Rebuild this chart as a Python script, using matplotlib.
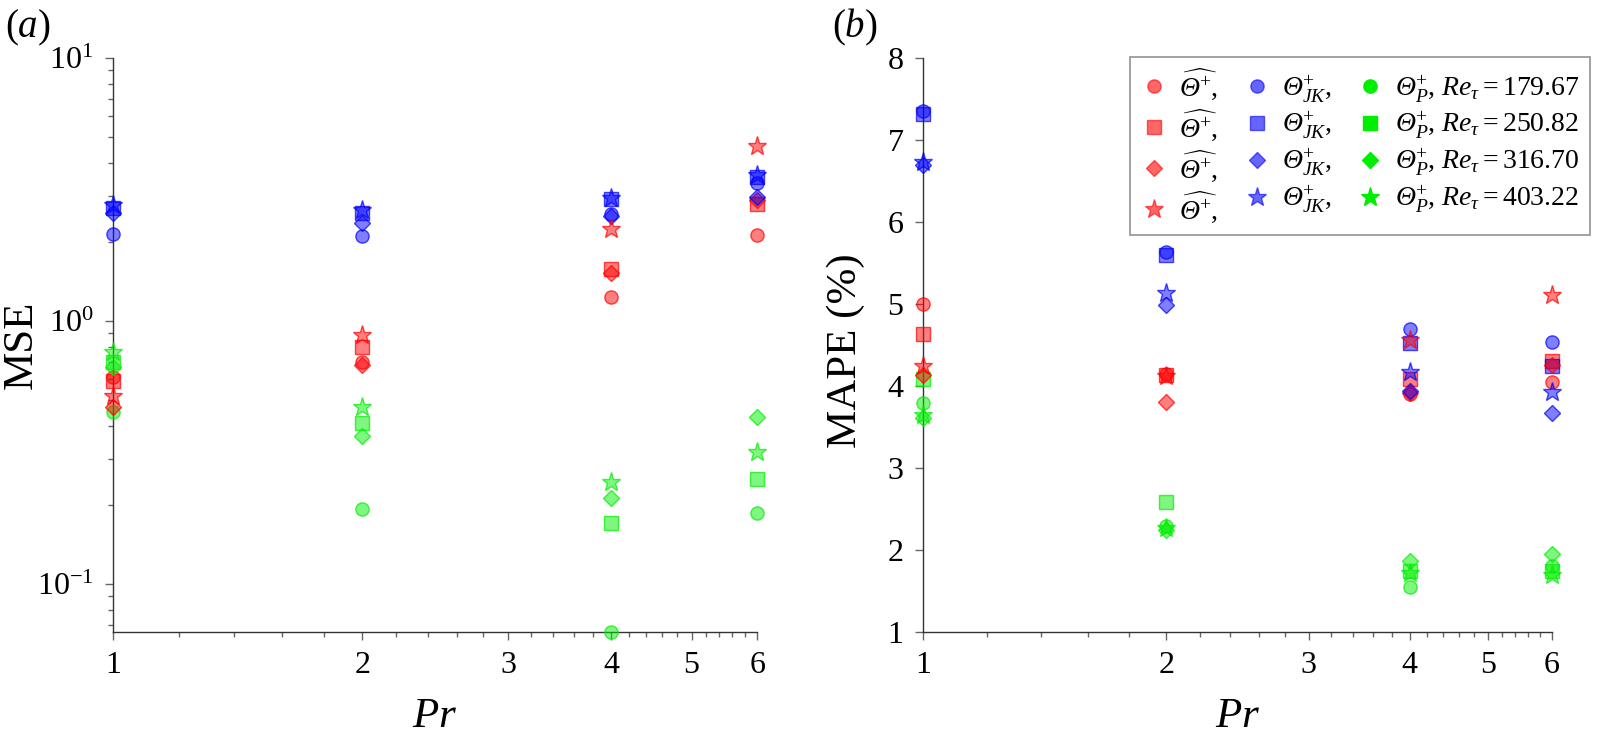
import numpy as np
import matplotlib
matplotlib.use("Agg")
import matplotlib.pyplot as plt
from matplotlib.lines import Line2D
from matplotlib.ticker import FixedLocator, NullFormatter, NullLocator, LogLocator

plt.rcParams['font.family'] = ['Liberation Serif', 'DejaVu Serif']
plt.rcParams['mathtext.fontset'] = 'custom'
plt.rcParams['mathtext.rm'] = 'Liberation Serif'
plt.rcParams['mathtext.it'] = 'Liberation Serif:italic'
plt.rcParams['mathtext.bf'] = 'Liberation Serif:bold'
# sf slot used for the italic capital Theta
plt.rcParams['mathtext.sf'] = 'Liberation Serif:italic'

# Prandtl numbers and friction Reynolds numbers
pr = [1, 2, 4, 6]
re_tau = ["179.67", "250.82", "316.70", "403.22"]
markers = ["o", "s", "D", "*"]

# MSE, rows follow re_tau
mse_hat = [[0.61, 0.70, 1.23, 2.12],
           [0.59, 0.80, 1.58, 2.79],
           [0.47, 0.68, 1.52, 2.88],
           [0.52, 0.885, 2.24, 4.62]]
mse_jk = [[2.14, 2.10, 2.55, 3.35],
          [2.69, 2.58, 2.90, 3.53],
          [2.58, 2.36, 2.50, 2.96],
          [2.76, 2.64, 2.94, 3.59]]
mse_p = [[0.45, 0.193, 0.0657, 0.186],
         [0.70, 0.41, 0.171, 0.25],
         [0.67, 0.365, 0.212, 0.431],
         [0.76, 0.47, 0.244, 0.318]]

# MAPE (%), rows follow re_tau
mape_hat = [[5.00, 4.15, 3.90, 4.05],
            [4.64, 4.13, 4.08, 4.31],
            [4.13, 3.80, 3.92, 4.26],
            [4.25, 4.12, 4.56, 5.11]]
mape_jk = [[7.36, 5.64, 4.70, 4.54],
           [7.32, 5.60, 4.52, 4.25],
           [6.69, 4.99, 3.94, 3.67],
           [6.73, 5.13, 4.17, 3.93]]
mape_p = [[3.79, 2.29, 1.55, 1.81],
          [4.08, 2.58, 1.75, 1.75],
          [3.61, 2.25, 1.87, 1.95],
          [3.65, 2.27, 1.72, 1.69]]

colors = ["#ff0000", "#0000ff", "#00ee00"]


def msize(m):
    return 14 if m == "*" else (8 if m == "D" else 9.5)


fig = plt.figure(figsize=(15.97, 7.46), dpi=100)
ax1 = fig.add_axes([0.0708, 0.1528, 0.4033, 0.7694])
ax2 = fig.add_axes([0.578, 0.1528, 0.3939, 0.7694])

for ax, sets in [(ax1, [mse_hat, mse_jk, mse_p]), (ax2, [mape_hat, mape_jk, mape_p])]:
    for i, m in enumerate(markers):
        for data, c in zip(sets, colors):
            ax.plot(pr, data[i], linestyle="none", marker=m, ms=msize(m),
                    mfc=c, mec="none", alpha=0.5, clip_on=False, zorder=3)
            ax.plot(pr, data[i], linestyle="none", marker=m, ms=msize(m),
                    mfc="none", mec=c, alpha=0.7, mew=1.0, clip_on=False, zorder=3)

for ax in (ax1, ax2):
    ax.set_xscale("log")
    ax.set_xlim(1, 6)
    ax.xaxis.set_major_locator(FixedLocator([1, 2, 3, 4, 5, 6]))
    ax.set_xticklabels(["1", "2", "3", "4", "5", "6"])
    ax.xaxis.set_minor_locator(FixedLocator(np.arange(1.2, 6.0, 0.2)))
    ax.xaxis.set_minor_formatter(NullFormatter())
    ax.spines["top"].set_visible(False)
    ax.spines["right"].set_visible(False)
    for s in ("left", "bottom"):
        ax.spines[s].set_color("#333333")
        ax.spines[s].set_linewidth(1.0)
    ax.tick_params(which="major", direction="out", length=6, width=1,
                   color="#666666", labelsize=23, pad=8)
    ax.tick_params(which="minor", direction="out", length=3.5, width=1,
                   color="#666666")
    ax.set_xlabel("$Pr$", fontsize=31, labelpad=12)

ax1.set_yscale("log")
ax1.set_ylim(0.0657, 10)
ax1.yaxis.set_major_locator(FixedLocator([0.1, 1, 10]))
ax1.set_yticklabels([r"$10^{-1}$", r"$10^{0}$", r"$10^{1}$"])
ax1.yaxis.set_minor_locator(LogLocator(base=10, subs=np.arange(2, 10)))
ax1.yaxis.set_minor_formatter(NullFormatter())
ax1.set_ylabel("MSE", fontsize=31)
ax1.yaxis.set_label_coords(-0.113, 0.5)

ax2.set_ylim(1, 8)
ax2.set_yticks([1, 2, 3, 4, 5, 6, 7, 8])
ax2.yaxis.set_minor_locator(NullLocator())
ax2.set_ylabel("MAPE (%)", fontsize=31)
ax2.yaxis.set_label_coords(-0.092, 0.49)

fig.text(0.003, 0.963, "($a$)", fontsize=28, va="center")
fig.text(0.521, 0.963, "($b$)", fontsize=28, va="center")

# legend: one entry per colour and Re
th = r"\mathsf{\Theta}"
handles = []
labels = []
for c, lab in [(colors[0], r"$\widehat{" + th + r"^{+}}$,"), (colors[1], r"$" + th + r"^{+}_{JK}$,")]:
    for m in markers:
        handles.append(Line2D([], [], linestyle="none", marker=m, ms=msize(m),
                              mfc=c, mec=c, alpha=0.6))
        labels.append(lab)
for m, r in zip(markers, re_tau):
    handles.append(Line2D([], [], linestyle="none", marker=m, ms=msize(m),
                          mfc=colors[2], mec=colors[2]))
    labels.append(r"$" + th + r"^{+}_{P}$, $Re_{\tau} = $" + r)

leg = fig.legend(handles, labels, ncol=3, loc="upper right",
                 bbox_to_anchor=(0.9955, 0.9236), fontsize=20,
                 frameon=True, fancybox=False, edgecolor="#777777",
                 handlelength=1.0, handletextpad=0.4, columnspacing=0.9,
                 labelspacing=0.2, borderpad=0.35, borderaxespad=0)
leg.get_frame().set_linewidth(1.2)

fig.savefig("out.png", dpi=100)
